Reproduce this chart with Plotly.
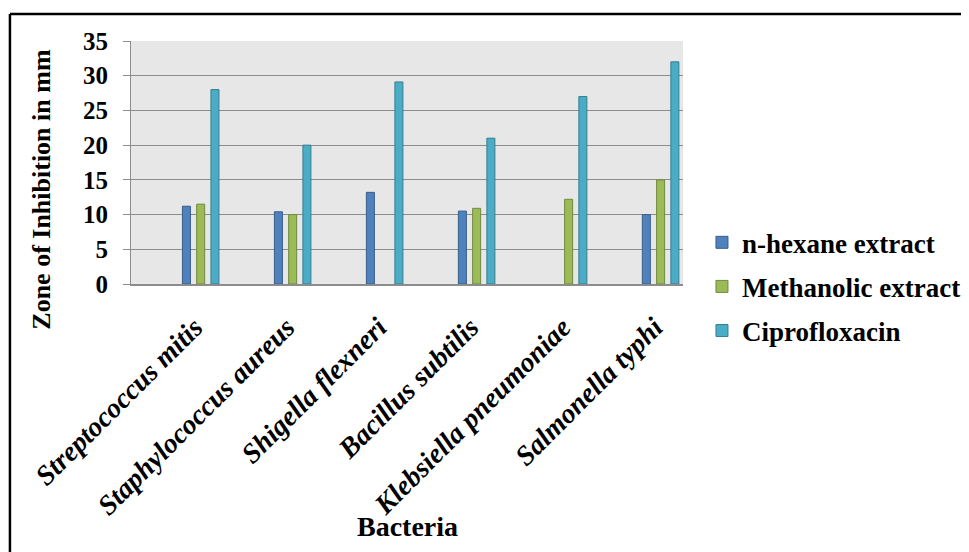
import plotly.graph_objects as go

categories = ["Streptococcus mitis", "Staphylococcus aureus", "Shigella flexneri",
              "Bacillus subtilis", "Klebsiella pneumoniae", "Salmonella typhi"]
n_hexane = [11.2, 10.4, 13.2, 10.5, None, 10.0]
methanolic = [11.5, 10.0, None, 10.9, 12.2, 15.0]
ciprofloxacin = [28.0, 20.0, 29.1, 21.0, 27.0, 32.0]
y_ticks = [0, 5, 10, 15, 20, 25, 30, 35]

series = [
    ("n-hexane extract", n_hexane, "#4F81BD", "#385D8A", -0.198),
    ("Methanolic extract", methanolic, "#9BBB59", "#71893F", -0.043),
    ("Ciprofloxacin", ciprofloxacin, "#4BACC6", "#357D91", 0.112),
]

FONT = "Liberation Serif"
SH = 7.5  # page offset compensation (body margin)
fig = go.Figure()
for i, (name, vals, col, edge, off) in enumerate(series):
    fig.add_trace(go.Bar(
        x=categories, y=vals, name=name,
        marker=dict(color=col, line=dict(color=edge, width=1)),
        width=0.087, offset=off, legendgroup=str(i),
    ))

L, R, T, B = 130 - SH, 684 - SH, 40 - SH, 284 - SH
W, H = 969, 552
pw, ph = R - L, B - T

def px(x):
    return (x - SH - L) / pw

def py(y):
    return (B - (y - SH)) / ph

fig.update_layout(
    width=W, height=H,
    margin=dict(l=L, r=W - R, t=T, b=H - B),
    paper_bgcolor="white", plot_bgcolor="#E7E7E7",
    barmode="overlay",
    font=dict(family=FONT, color="black"),
    showlegend=True,
    legend=dict(
        x=px(702), y=py(218), xanchor="left", yanchor="top",
        font=dict(family=FONT, size=27, weight="bold"),
        tracegroupgap=6, bgcolor="rgba(0,0,0,0)",
    ),
    xaxis=dict(
        type="category", range=[-0.757, 5.244],
        showgrid=False, showline=True, linecolor="#8C8C8C", linewidth=1.5,
        ticks="outside", ticklen=14, tickcolor="rgba(0,0,0,0)",
        tickangle=-45, ticklabelshift=-6,
        tickfont=dict(family=FONT, size=28, weight="bold", style="italic"),
    ),
    yaxis=dict(
        range=[0, 35], tickvals=y_ticks,
        showgrid=True, gridcolor="#8C8C8C", gridwidth=1,
        showline=True, linecolor="#8C8C8C", linewidth=1,
        ticks="outside", ticklen=7, tickcolor="#8C8C8C",
        ticklabelstandoff=10,
        tickfont=dict(family=FONT, size=25, weight="bold"),
        zeroline=False,
    ),
    annotations=[
        dict(text="Zone of Inhibition in mm", xref="paper", yref="paper",
             x=px(40), y=py(189), xanchor="center", yanchor="middle",
             textangle=-90, showarrow=False,
             font=dict(family=FONT, size=26, weight="bold")),
        dict(text="Bacteria", xref="paper", yref="paper",
             x=px(407), y=py(527), xanchor="center", yanchor="middle",
             showarrow=False,
             font=dict(family=FONT, size=28, weight="bold")),
    ],
    shapes=[
        dict(type="line", xref="paper", yref="paper",
             x0=px(8.5), x1=px(980), y0=py(13), y1=py(13),
             line=dict(color="black", width=2.5)),
        dict(type="line", xref="paper", yref="paper",
             x0=px(8.5), x1=px(8.5), y0=py(13), y1=py(570),
             line=dict(color="black", width=2.5)),
    ],
)

fig.write_html("out.html")
